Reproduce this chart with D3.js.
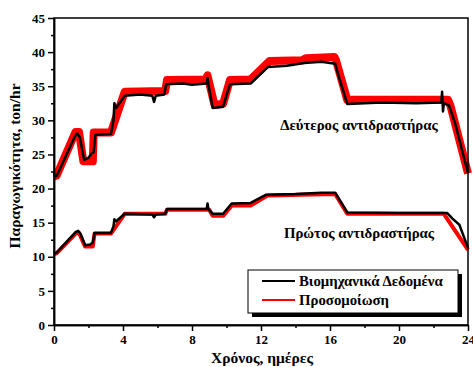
<!DOCTYPE html>
<html>
<head>
<meta charset="utf-8">
<script src="https://cdn.jsdelivr.net/npm/d3@7"></script>
<style>
  body { margin: 0; background: #fff; }
  svg text { font-family: "Liberation Serif", "Times New Roman", serif; font-weight: bold; }
</style>
</head>
<body>
<svg id="chart" width="473" height="367"></svg>
<script>
// second reactor (top curves)
var daysData2 = [0, 0.15, 1.2, 1.35, 1.5, 1.75, 2.0, 2.2, 2.3, 2.4, 3.3, 3.45, 3.5, 3.6, 4.1, 5.0, 5.7, 5.8, 5.9, 6.4, 6.5, 7.5, 8.0, 8.85, 8.9, 8.95, 9.2, 9.8, 10.2, 11.4, 12.4, 13.5, 14.5, 15.5, 16.3, 16.5, 17.0, 19, 21, 22.45, 22.5, 22.55, 22.6, 22.9, 23.25, 23.8, 24];
var industrial2 = [22.0, 21.8, 27.6, 28.1, 27.5, 24.2, 24.5, 25.2, 25.3, 27.9, 28.0, 30.0, 32.5, 31.8, 33.6, 33.8, 33.6, 32.7, 33.6, 33.8, 35.3, 35.4, 35.2, 35.4, 36.2, 35.3, 31.8, 32.0, 35.3, 35.4, 37.8, 38.0, 38.4, 38.6, 38.3, 36.5, 32.4, 32.6, 32.5, 32.6, 34.2, 31.3, 32.5, 32.2, 29.6, 24.2, 22.3];
var daysSim2 = [0, 0.15, 1.25, 1.45, 1.7, 2.25, 2.3, 3.3, 4.1, 6.45, 6.55, 8.8, 8.9, 9.0, 9.3, 9.8, 10.2, 11.4, 12.5, 14.4, 14.6, 16.25, 16.35, 17.0, 22.85, 23.0, 24];
var simulation2 = [21.8, 21.9, 28.3, 28.3, 24.0, 24.0, 28.2, 28.2, 34.2, 34.3, 35.9, 36.0, 36.6, 35.5, 32.3, 32.4, 35.9, 36.0, 38.7, 38.8, 39.1, 39.3, 38.8, 33.0, 33.0, 32.0, 22.2];

// first reactor (bottom curves)
var daysData1 = [0, 0.15, 1.25, 1.4, 1.55, 1.8, 2.1, 2.25, 2.35, 3.3, 3.45, 3.5, 3.6, 4.1, 5.7, 5.8, 5.9, 6.45, 6.55, 8.85, 8.9, 8.95, 9.2, 9.8, 10.3, 11.4, 12.3, 14, 15.5, 16.3, 17.0, 20, 22.6, 22.8, 23.1, 23.5, 24];
var industrial1 = [10.5, 10.6, 13.6, 13.8, 13.3, 11.7, 11.8, 12.1, 13.5, 13.5, 14.5, 15.5, 15.2, 16.3, 16.2, 15.8, 16.2, 16.3, 17.0, 17.0, 17.8, 17.0, 16.3, 16.3, 17.8, 17.9, 19.1, 19.2, 19.4, 19.4, 16.5, 16.4, 16.4, 16.4, 15.6, 14.7, 11.3];
var daysSim1 = [0, 0.15, 1.3, 1.45, 1.8, 2.25, 2.35, 3.3, 4.1, 6.45, 6.55, 9.0, 9.2, 9.8, 10.3, 11.4, 12.4, 16.3, 17.0, 22.6, 24];
var simulation1 = [10.4, 10.5, 13.5, 13.5, 11.5, 11.5, 13.4, 13.4, 16.3, 16.3, 16.9, 16.9, 16.0, 16.0, 17.5, 17.5, 19.0, 19.2, 16.3, 16.3, 11.0];

var xTicks = [0, 4, 8, 12, 16, 20, 24];
var yTicks = [0, 5, 10, 15, 20, 25, 30, 35, 40, 45];
var legendNames = ["Βιομηχανικά Δεδομένα", "Προσομοίωση"];

var svg = d3.select("#chart");
var mLeft = 54, mRight = 468, mTop = 18, mBottom = 325;

var x = d3.scaleLinear().domain([0, 24]).range([mLeft, mRight]);
var y = d3.scaleLinear().domain([0, 45]).range([mBottom, mTop]);

var line = d3.line()
    .x(function(d) { return x(d[0]); })
    .y(function(d) { return y(d[1]); });

function pairs(days, vals) {
    return days.map(function(d, i) { return [d, vals[i]]; });
}

// curves: simulation under, industrial on top
var curves = [
    { data: pairs(daysSim2, simulation2), color: "#ff0000", width: 8 },
    { data: pairs(daysSim1, simulation1), color: "#ff0000", width: 4 },
    { data: pairs(daysData2, industrial2), color: "#000000", width: 2.5 },
    { data: pairs(daysData1, industrial1), color: "#000000", width: 2.5 }
];

svg.append("g").selectAll("path")
    .data(curves)
    .enter()
    .append("path")
    .attr("d", function(d) { return line(d.data); })
    .attr("fill", "none")
    .attr("stroke", function(d) { return d.color; })
    .attr("stroke-width", function(d) { return d.width; })
    .attr("stroke-linejoin", "round");

// frame
svg.append("rect")
    .attr("x", mLeft).attr("y", mTop)
    .attr("width", mRight - mLeft).attr("height", mBottom - mTop)
    .attr("fill", "none").attr("stroke", "#000").attr("stroke-width", 1.5);

// axes
var xAxis = svg.append("g")
    .attr("transform", "translate(0," + mBottom + ")")
    .call(d3.axisBottom(x).tickValues(xTicks).tickSize(6).tickPadding(4).tickSizeOuter(0));
var xMinor = svg.append("g")
    .attr("transform", "translate(0," + mBottom + ")")
    .call(d3.axisBottom(x).tickValues([2, 6, 10, 14, 18, 22]).tickSize(3).tickFormat("").tickSizeOuter(0));

var yAxis = svg.append("g")
    .attr("transform", "translate(" + mLeft + ",0)")
    .call(d3.axisLeft(y).tickValues(yTicks).tickSize(6).tickPadding(3).tickSizeOuter(0));
var yMinor = svg.append("g")
    .attr("transform", "translate(" + mLeft + ",0)")
    .call(d3.axisLeft(y).tickValues(d3.range(2.5, 45, 5)).tickSize(3).tickFormat("").tickSizeOuter(0));

[xAxis, xMinor, yAxis, yMinor].forEach(function(g) {
    g.selectAll("path, line").attr("stroke", "#000").attr("stroke-width", 1.5);
    g.selectAll("text").attr("fill", "#000").style("font-size", "13px");
});

// axis titles
svg.append("text")
    .attr("x", 262).attr("y", 363)
    .attr("text-anchor", "middle")
    .style("font-size", "15.5px")
    .text("Χρόνος, ημέρες");

svg.append("text")
    .attr("transform", "translate(20,166) rotate(-90)")
    .attr("text-anchor", "middle")
    .style("font-size", "15.5px")
    .text("Παραγωγικότητα, ton/hr");

// reactor labels
svg.append("text")
    .attr("x", 359).attr("y", 130)
    .attr("text-anchor", "middle")
    .style("font-size", "14.8px")
    .text("Δεύτερος αντιδραστήρας");

svg.append("text")
    .attr("x", 359).attr("y", 238)
    .attr("text-anchor", "middle")
    .style("font-size", "14.8px")
    .text("Πρώτος αντιδραστήρας");

// legend with shadow
var legend = svg.append("g");
legend.append("rect")
    .attr("x", 252).attr("y", 274).attr("width", 210).attr("height", 43)
    .attr("fill", "#000");
legend.append("rect")
    .attr("x", 248).attr("y", 270).attr("width", 210).attr("height", 43)
    .attr("fill", "#fff").attr("stroke", "#000").attr("stroke-width", 1);

var items = legend.selectAll("g.item")
    .data(legendNames)
    .enter()
    .append("g")
    .attr("class", "item")
    .attr("transform", function(d, i) { return "translate(0," + (281 + i * 19) + ")"; });

items.append("line")
    .attr("x1", 262).attr("x2", 295)
    .attr("stroke", function(d, i) { return i === 0 ? "#000" : "#ff0000"; })
    .attr("stroke-width", 2);

items.append("text")
    .attr("x", 299).attr("y", 5)
    .style("font-size", "14.8px")
    .text(function(d) { return d; });
</script>
</body>
</html>
